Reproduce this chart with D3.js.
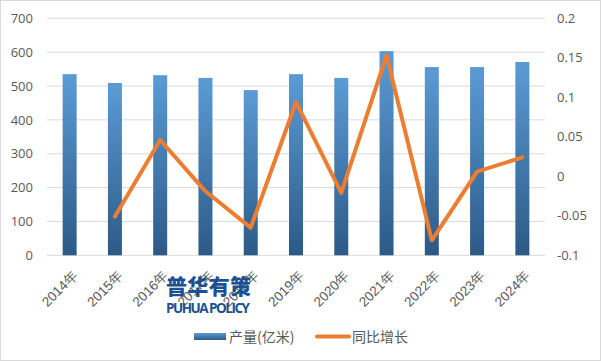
<!DOCTYPE html>
<html><head><meta charset="utf-8">
<script src="https://cdn.jsdelivr.net/npm/d3@7"></script>
<style>body{margin:0;background:#fff;}svg{display:block;font-family:"Microsoft YaHei","Noto Sans CJK SC","DejaVu Sans",sans-serif;}</style>
</head><body><svg id="c" width="601" height="361"></svg>
<script>
const categories = ["2014年","2015年","2016年","2017年","2018年","2019年","2020年","2021年","2022年","2023年","2024年"];
const output = [535, 509, 532, 524, 488, 535, 524, 603, 556, 556, 571];
const growth = [null, -0.051, 0.046, -0.019, -0.065, 0.094, -0.021, 0.153, -0.081, 0.006, 0.024];
const leftTicks = [0,100,200,300,400,500,600,700];
const rightTicks = [-0.1,-0.05,0,0.05,0.1,0.15,0.2];
const rightLabels = ["-0.1","-0.05","0","0.05","0.1","0.15","0.2"];
const seriesNames = ["产量(亿米)","同比增长"];

const svg = d3.select("#c");
const L=47, R=545, T=18.3, B=255.3;
svg.append("rect").attr("x",0.5).attr("y",0.5).attr("width",600).attr("height",360)
  .attr("fill","#fff").attr("stroke","#d9d9d9");

const x = d3.scaleBand().domain(categories).range([L,R]).paddingInner(0).paddingOuter(0);
const yL = d3.scaleLinear().domain([0,700]).range([B,T]);
const yR = d3.scaleLinear().domain([-0.1,0.2]).range([B,T]);

const defs = svg.append("defs");
const g = defs.append("linearGradient").attr("id","bg").attr("x1",0).attr("y1",0).attr("x2",0).attr("y2",1);
g.append("stop").attr("offset","0%").attr("stop-color","#5b9bd5");
g.append("stop").attr("offset","100%").attr("stop-color","#2c5a87");

// gridlines
svg.append("g").selectAll("line").data(leftTicks).join("line")
  .attr("x1",L).attr("x2",R).attr("y1",d=>yL(d)).attr("y2",d=>yL(d))
  .attr("stroke","#d9d9d9").attr("stroke-width",1);

// left axis
const la = svg.append("g").attr("transform",`translate(${L},0)`)
  .call(d3.axisLeft(yL).tickValues(leftTicks).tickSize(0).tickPadding(14));
la.select(".domain").remove();
la.selectAll("text").attr("font-size",13).attr("fill","#595959").attr("font-family","Open Sans, DejaVu Sans, sans-serif");

// right axis
const ra = svg.append("g").attr("transform",`translate(${R},0)`)
  .call(d3.axisRight(yR).tickValues(rightTicks).tickSize(0).tickPadding(12).tickFormat((d,i)=>rightLabels[i]));
ra.select(".domain").remove();
ra.selectAll("text").attr("font-size",13).attr("fill","#595959").attr("font-family","Open Sans, DejaVu Sans, sans-serif");

// bars
const bw = 14;
svg.append("g").selectAll("rect").data(output).join("rect")
  .attr("x",(d,i)=>x(categories[i])+x.bandwidth()/2-bw/2)
  .attr("width",bw)
  .attr("y",d=>yL(d)).attr("height",d=>B-yL(d))
  .attr("fill","url(#bg)");

// x labels
const xa = svg.append("g").attr("transform",`translate(0,${B})`)
  .call(d3.axisBottom(x).tickSize(0).tickPadding(0));
xa.select(".domain").remove();
xa.selectAll("text").attr("font-size",13.5).attr("fill","#595959")
  .attr("text-anchor","end").attr("dy",0)
  .attr("transform","translate(9,21) rotate(-45)");

// watermark
svg.append("text").attr("x",166).attr("y",294).attr("font-size",21).attr("font-weight","900")
  .attr("fill","#1d4f91").attr("textLength",85).text("普华有策");
svg.append("text").attr("x",166).attr("y",312.5).attr("font-size",13.5).attr("font-weight","bold")
  .attr("fill","#1d4f91").attr("font-family","Open Sans, DejaVu Sans, sans-serif").attr("textLength",84).text("PUHUA POLICY");

// line
const pts = growth.map((v,i)=>({v,c:categories[i]})).filter(p=>p.v!==null);
svg.append("path").datum(pts)
  .attr("d",d3.line().x(p=>x(p.c)+x.bandwidth()/2).y(p=>yR(p.v)))
  .attr("fill","none").attr("stroke","#ed7d31").attr("stroke-width",4).attr("stroke-linejoin","round").attr("stroke-linecap","round");

// legend
const lg = svg.append("g");
lg.append("rect").attr("x",194).attr("y",333).attr("width",32).attr("height",7).attr("fill","url(#bg)");
lg.append("text").attr("x",229).attr("y",342).attr("font-size",14).attr("fill","#595959").text(seriesNames[0]);
lg.append("line").attr("x1",317).attr("x2",349).attr("y1",336.5).attr("y2",336.5)
  .attr("stroke","#ed7d31").attr("stroke-width",4).attr("stroke-linecap","round");
lg.append("text").attr("x",352).attr("y",342).attr("font-size",14).attr("fill","#595959").text(seriesNames[1]);
</script></body></html>
